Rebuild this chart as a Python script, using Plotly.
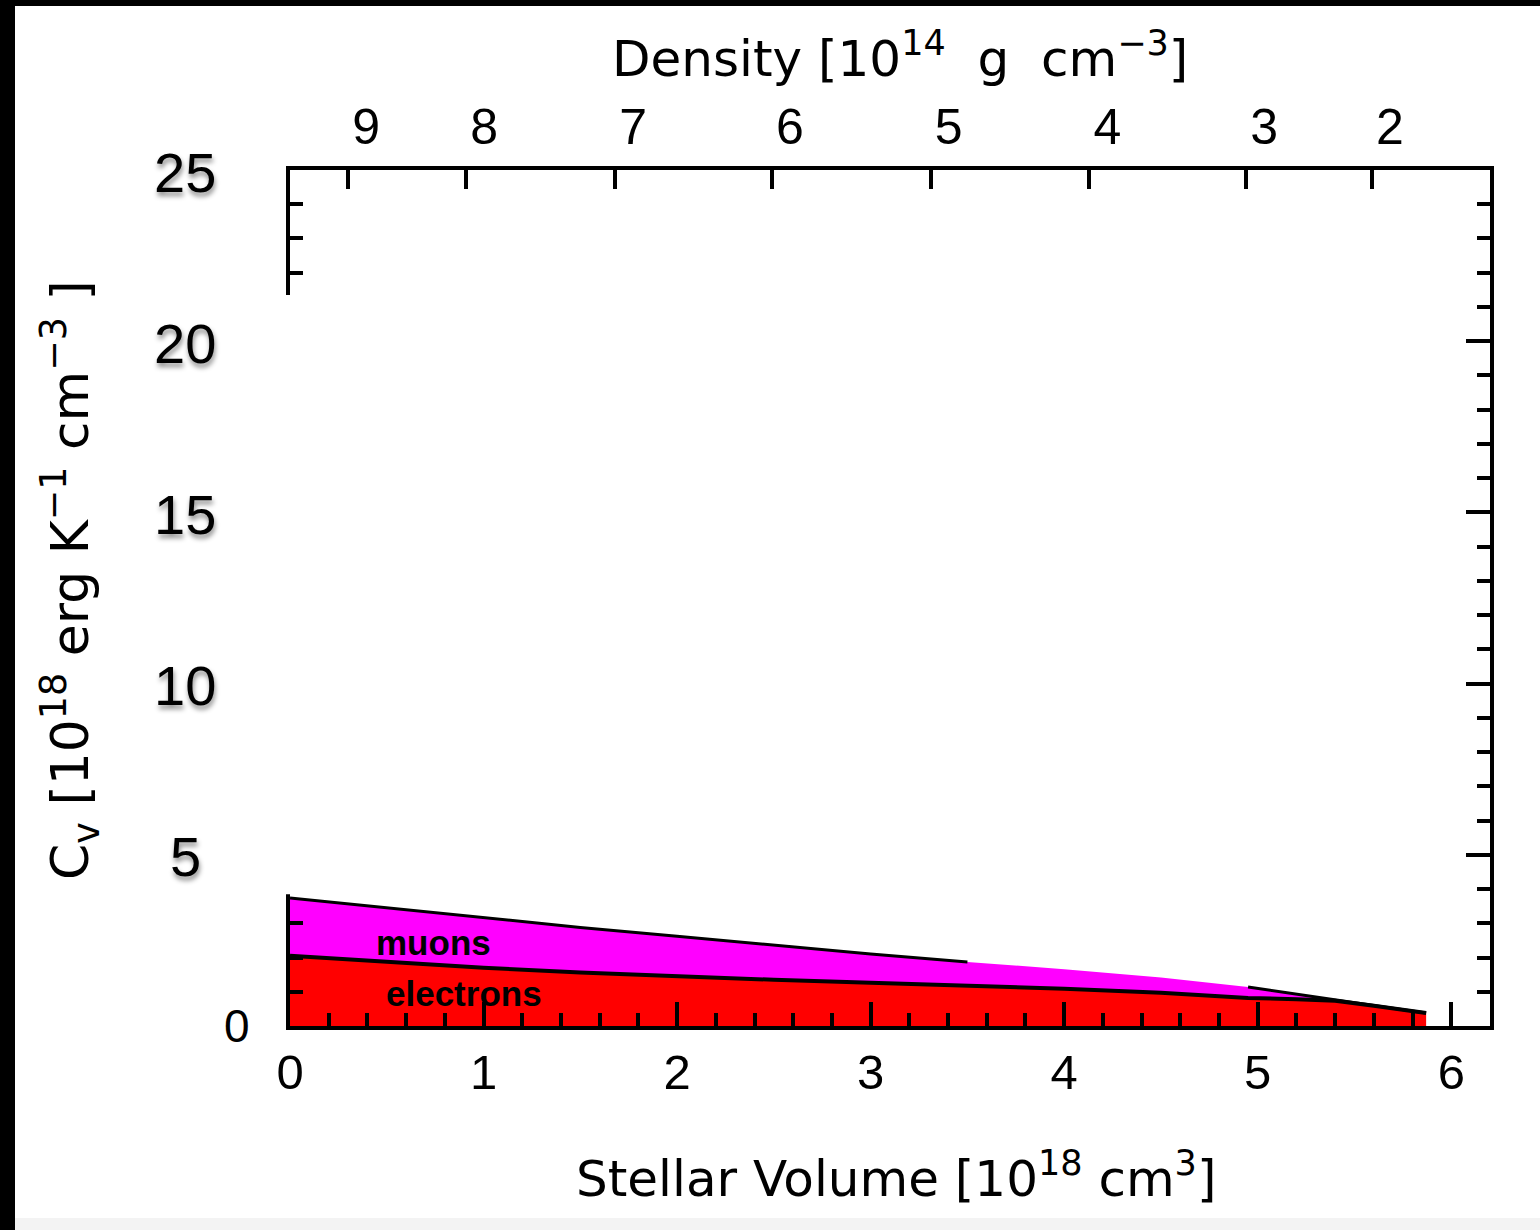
import plotly.graph_objects as go

# ---- data ----
volume = [0, 0.5, 1, 1.5, 2, 2.5, 3, 3.5, 4, 4.5, 4.95, 5.2, 5.4, 5.6, 5.87]
electrons = [2.05, 1.87, 1.70, 1.56, 1.45, 1.35, 1.26, 1.17, 1.09, 0.97, 0.82, 0.78, 0.74, 0.59, 0.38]
muons = [1.69, 1.58, 1.47, 1.32, 1.17, 1.00, 0.84, 0.70, 0.57, 0.45, 0.32, 0.15, 0.01, 0.01, 0.0]

x_ticks = [0, 1, 2, 3, 4, 5, 6]
y_ticks = [5, 10, 15, 20, 25]
density_tickvals = [0.30, 0.91, 1.68, 2.49, 3.31, 4.13, 4.94, 5.59]
density_ticktext = ["9", "8", "7", "6", "5", "4", "3", "2"]

# ---- geometry (pixels) ----
W, H = 1540, 1230
L, R, T, B = 290, 50, 170, 204
pw, ph = W - L - R, H - T - B

def px_x(p):
    return (p - L) / pw

def px_y(p):
    return (H - B - p) / ph

FONT = "Liberation Sans, Arial, sans-serif"
TFONT = "DejaVu Sans, sans-serif"

total = [e + m for e, m in zip(electrons, muons)]
total_line = [t if (v <= 3.5 or v >= 4.95) else None for v, t in zip(volume, total)]

fig = go.Figure()
fig.add_trace(go.Scatter(x=volume, y=electrons, stackgroup="cv", mode="lines",
                         line=dict(color="black", width=4), fillcolor="#ff0000",
                         name="electrons", hoverinfo="skip"))
fig.add_trace(go.Scatter(x=volume, y=muons, stackgroup="cv", mode="lines",
                         line=dict(color="black", width=0), fillcolor="#ff00ff",
                         name="muons", hoverinfo="skip"))
# outline of the total, drawn against the top (density) axis which shares the range
fig.add_trace(go.Scatter(x=volume, y=total_line, mode="lines", xaxis="x2", yaxis="y",
                         line=dict(color="black", width=3), connectgaps=False,
                         showlegend=False, hoverinfo="skip"))

axis_common = dict(showgrid=False, zeroline=False, showline=True, linecolor="black",
                   linewidth=4, ticks="inside", tickcolor="black", tickwidth=4)

fig.update_layout(
    width=W, height=H,
    margin=dict(l=L, r=R, t=T, b=B, autoexpand=False),
    paper_bgcolor="white", plot_bgcolor="white",
    showlegend=False,
    xaxis=dict(range=[0, 6.2], tickvals=x_ticks, ticklen=24, mirror=False,
               tickfont=dict(family=FONT, size=49, color="black"),
               ticklabelstandoff=0,
               minor=dict(dtick=0.2, ticklen=13, tickwidth=4, ticks="inside", tickcolor="black"),
               **axis_common),
    xaxis2=dict(range=[0, 6.2], overlaying="x", side="top", anchor="y",
                tickvals=density_tickvals, ticktext=density_ticktext, ticklen=19,
                ticklabelshift=18, ticklabelstandoff=2,
                tickfont=dict(family=FONT, size=50, color="black"),
                **axis_common),
    yaxis=dict(range=[0, 25], tickvals=y_ticks, ticklen=24, mirror="ticks",
               showticklabels=False,
               minor=dict(dtick=1, ticklen=13, tickwidth=4, ticks="inside", tickcolor="black"),
               **axis_common),
)

shapes = [
    # white patch hiding part of the left axis
    dict(type="rect", xref="paper", yref="paper", x0=px_x(278), x1=px_x(318),
         y0=3.85 / 25, y1=px_y(295), fillcolor="white", line=dict(width=0), layer="above"),
    # black frame on left and top of the image
    dict(type="rect", xref="paper", yref="paper", x0=px_x(0), x1=px_x(15),
         y0=px_y(H), y1=px_y(0), fillcolor="black", line=dict(width=0), layer="above"),
    dict(type="rect", xref="paper", yref="paper", x0=px_x(0), x1=px_x(W),
         y0=px_y(6), y1=px_y(0), fillcolor="black", line=dict(width=0), layer="above"),
    # faint grey band at bottom
    dict(type="rect", xref="paper", yref="paper", x0=px_x(15), x1=px_x(W),
         y0=px_y(H), y1=px_y(1218), fillcolor="#f3f3f3", line=dict(width=0), layer="above"),
]
fig.update_layout(shapes=shapes)

ann = []
# overlaid y tick labels with shadow
for v in y_ticks:
    ann.append(dict(x=px_x(185), y=v, xref="paper", yref="y", text=str(v), showarrow=False,
                    xanchor="center", yanchor="middle", yshift=-2,
                    font=dict(family=FONT, size=56, color="black",
                              shadow="1px 4px 5px rgba(0,0,0,0.45)")))
ann.append(dict(x=px_x(237), y=0, xref="paper", yref="y", text="0", showarrow=False,
                xanchor="center", yanchor="middle",
                font=dict(family=FONT, size=46, color="black")))
# axis titles
ann.append(dict(x=px_x(896), y=px_y(1175), xref="paper", yref="paper", showarrow=False,
                text="Stellar Volume [10<sup>18</sup> cm<sup>3</sup>]",
                xanchor="center", yanchor="middle",
                font=dict(family=TFONT, size=50, color="black")))
ann.append(dict(x=px_x(900), y=px_y(55), xref="paper", yref="paper", showarrow=False,
                text="Density [10<sup>14</sup>  g  cm<sup>−3</sup>]",
                xanchor="center", yanchor="middle",
                font=dict(family=TFONT, size=50, color="black")))
ann.append(dict(x=px_x(70), y=px_y(580), xref="paper", yref="paper", showarrow=False,
                text="C<sub>v</sub> [10<sup>18</sup> erg K<sup>−1</sup> cm<sup>−3</sup> ]",
                textangle=-90, xanchor="center", yanchor="middle",
                font=dict(family=TFONT, size=52, color="black")))
# region labels
ann.append(dict(x=0.74, y=2.45, xref="x", yref="y", text="<b>muons</b>", showarrow=False,
                xanchor="center", yanchor="middle",
                font=dict(family=FONT, size=35, color="black")))
ann.append(dict(x=0.90, y=0.95, xref="x", yref="y", text="<b>electrons</b>", showarrow=False,
                xanchor="center", yanchor="middle",
                font=dict(family=FONT, size=35, color="black")))
fig.update_layout(annotations=ann)

fig.write_html("out.html")
